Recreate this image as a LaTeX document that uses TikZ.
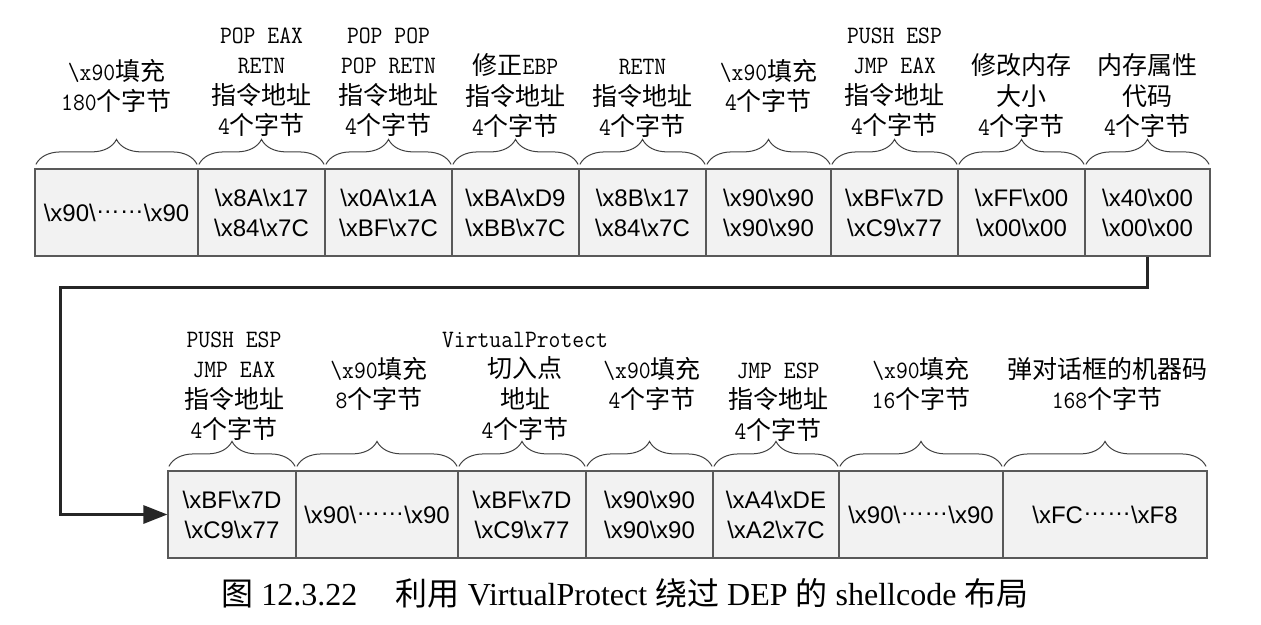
\documentclass[tikz,border=0pt]{standalone}
\usepackage{fontspec}
\setmainfont{Liberation Serif}
\setsansfont{Liberation Sans}
\setmonofont{Latin Modern Mono}[FakeStretch=0.92]
\newfontfamily\cjk{Noto Sans CJK SC}
\usetikzlibrary{decorations.pathreplacing,arrows.meta,calc}
\newcommand\bsl{\textbackslash}
\newcommand\zh[1]{{\cjk #1}}
\newcommand\cdts{\raisebox{0.3em}{……}}
\newcommand\lab[4]{\foreach \t [count=\i] in {#4} {\node[lbl] (#1-\i) at (#2,{#3+30.5*(\i-1)}) {\t};}}
\begin{document}
\begin{tikzpicture}[x=1pt,y=-1pt,
  cell/.style={draw=black!65, line width=1.2pt, fill=black!5, minimum height=87pt,
    inner sep=0pt, font=\sffamily\fontsize{24}{30}\selectfont, align=center},
  lbl/.style={anchor=base, inner sep=0pt, font=\ttfamily\fontsize{25}{30}\selectfont},
  brc/.style={decorate, decoration={brace, amplitude=25pt}, draw=black!75, line width=1pt},
  arr/.style={line width=3pt, draw=black!85, line join=miter, -{Triangle[length=24pt,width=18pt]}}]
\useasboundingbox (0,0) rectangle (1261,624);

% top row
\node[cell, minimum width=163pt] (t1) at (116.5,212.5) {\bsl x90\bsl\cdts\bsl x90};
\node[cell, minimum width=127pt] (t2) at (261.5,212.5) {\bsl x8A\bsl x17\\\bsl x84\bsl x7C};
\node[cell, minimum width=127pt] (t3) at (388.5,212.5) {\bsl x0A\bsl x1A\\\bsl xBF\bsl x7C};
\node[cell, minimum width=127pt] (t4) at (515.5,212.5) {\bsl xBA\bsl xD9\\\bsl xBB\bsl x7C};
\node[cell, minimum width=127pt] (t5) at (642.5,212.5) {\bsl x8B\bsl x17\\\bsl x84\bsl x7C};
\node[cell, minimum width=125pt] (t6) at (768.5,212.5) {\bsl x90\bsl x90\\\bsl x90\bsl x90};
\node[cell, minimum width=127pt] (t7) at (894.5,212.5) {\bsl xBF\bsl x7D\\\bsl xC9\bsl x77};
\node[cell, minimum width=127pt] (t8) at (1021.5,212.5) {\bsl xFF\bsl x00\\\bsl x00\bsl x00};
\node[cell, minimum width=125pt] (t9) at (1147.5,212.5) {\bsl x40\bsl x00\\\bsl x00\bsl x00};

% bottom row
\node[cell, minimum width=128pt] (b1) at (232,514.5) {\bsl xBF\bsl x7D\\\bsl xC9\bsl x77};
\node[cell, minimum width=162pt] (b2) at (377,514.5) {\bsl x90\bsl\cdts\bsl x90};
\node[cell, minimum width=128pt] (b3) at (522,514.5) {\bsl xBF\bsl x7D\\\bsl xC9\bsl x77};
\node[cell, minimum width=127pt] (b4) at (649.5,514.5) {\bsl x90\bsl x90\\\bsl x90\bsl x90};
\node[cell, minimum width=126pt] (b5) at (776,514.5) {\bsl xA4\bsl xDE\\\bsl xA2\bsl x7C};
\node[cell, minimum width=164pt] (b6) at (921,514.5) {\bsl x90\bsl\cdts\bsl x90};
\node[cell, minimum width=204pt] (b7) at (1105,514.5) {\bsl xFC\cdts\bsl xF8};

% braces
\foreach \n in {t1,t2,t3,t4,t5,t6,t7,t8,t9,b1,b2,b3,b4,b5,b6,b7}
  \draw[brc] ($(\n.north west)+(1.5,-4)$) -- ($(\n.north east)+(-1.5,-4)$);

% top labels
\lab{lt1}{116.5}{80}{\bsl x90\zh{填充}, 180\zh{个字节}}
\lab{lt2}{261.5}{43}{POP EAX, RETN, \zh{指令地址}, 4\zh{个字节}}
\lab{lt3}{388.5}{43}{POP POP, POP RETN, \zh{指令地址}, 4\zh{个字节}}
\lab{lt4}{515.5}{74.5}{\zh{修正}EBP, \zh{指令地址}, 4\zh{个字节}}
\lab{lt5}{642.5}{74.5}{RETN, \zh{指令地址}, 4\zh{个字节}}
\lab{lt6}{768.5}{80}{\bsl x90\zh{填充}, 4\zh{个字节}}
\lab{lt7}{894.5}{43}{PUSH ESP, JMP EAX, \zh{指令地址}, 4\zh{个字节}}
\lab{lt8}{1021.5}{74.5}{\zh{修改内存}, \zh{大小}, 4\zh{个字节}}
\lab{lt9}{1147.5}{74.5}{\zh{内存属性}, \zh{代码}, 4\zh{个字节}}

% bottom labels
\lab{lb1}{234}{347}{PUSH ESP, JMP EAX, \zh{指令地址}, 4\zh{个字节}}
\lab{lb2}{379}{378}{\bsl x90\zh{填充}, 8\zh{个字节}}
\lab{lb3}{525}{347}{VirtualProtect, \zh{切入点}, \zh{地址}, 4\zh{个字节}}
\lab{lb4}{652}{378}{\bsl x90\zh{填充}, 4\zh{个字节}}
\lab{lb5}{778}{378}{JMP ESP, \zh{指令地址}, 4\zh{个字节}}
\lab{lb6}{921}{378}{\bsl x90\zh{填充}, 16\zh{个字节}}
\lab{lb7}{1107}{378}{\zh{弹对话框的机器码}, 168\zh{个字节}}

% connector
\coordinate (k1) at (60,287);
\draw[arr] (t9.south) |- (k1) |- (b1.west);

% caption
\node[anchor=base, inner sep=0pt, font=\fontsize{32}{34}\selectfont] (cap) at (625,605)
  {\zh{图} 12.3.22\hspace{1.2em}\zh{利用} VirtualProtect \zh{绕过} DEP \zh{的} shellcode \zh{布局}};
\end{tikzpicture}
\end{document}
